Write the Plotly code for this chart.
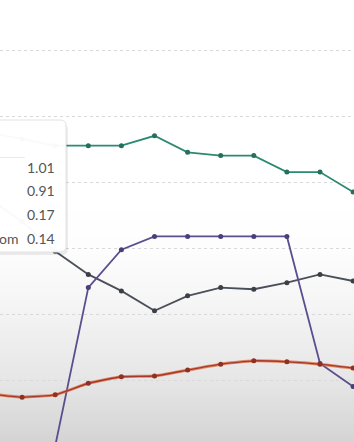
import plotly.graph_objects as go

# ---- data (category index 0..11) ----
idx = list(range(12))
green = [0.95, 0.93, 0.91, 0.91, 0.91, 0.94, 0.89, 0.88, 0.88, 0.83, 0.83, 0.77]
gray = [0.75, 0.68, 0.59, 0.52, 0.47, 0.41, 0.455, 0.48, 0.475, 0.495, 0.52, 0.50]
purple = [0.0, 0.0, 0.0, 0.48, 0.595, 0.635, 0.635, 0.635, 0.635, 0.635, 0.25, 0.18]
orange = [0.158, 0.148, 0.155, 0.19, 0.21, 0.212, 0.23, 0.248, 0.258, 0.255, 0.248, 0.236]

tip_labels = ["", "", "", "om"]
tip_values = ["1.01", "0.91", "0.17", "0.14"]

W, H = 354, 442

def px(x):
    return x / W

def py(y):
    return 1 - y / H

fig = go.Figure()

series = [
    (green, "#2a8a72", "#256f5d"),
    (gray, "#4b4f59", "#3c3f47"),
    (purple, "#5b4e8e", "#4a3f78"),
]
for vals, lc, mc in series:
    fig.add_trace(go.Scatter(x=idx, y=vals, mode="lines+markers",
                             line=dict(color=lc, width=1.8),
                             marker=dict(color=mc, size=5),
                             hoverinfo="skip", showlegend=False))
# orange: glow + darker core
fig.add_trace(go.Scatter(x=idx, y=orange, mode="lines", line=dict(color="#d9683c", width=3.0, shape="spline", smoothing=0.4),
                         opacity=0.75, hoverinfo="skip", showlegend=False))
fig.add_trace(go.Scatter(x=idx, y=orange, mode="lines+markers",
                         line=dict(color="#a8392a", width=1.4, shape="spline", smoothing=0.4),
                         marker=dict(color="#8e3022", size=5),
                         hoverinfo="skip", showlegend=False))

shapes = []
# background vertical gradient (below gridlines)
stops = [(442, 212), (380, 230), (300, 246), (250, 253), (200, 255)]
def shade(y):
    for (y1, c1), (y2, c2) in zip(stops[:-1], stops[1:]):
        if y2 <= y <= y1:
            t = (y1 - y) / (y1 - y2)
            return c1 + (c2 - c1) * t
    return 255
y = 442
while y > 200:
    c = int(round(shade(y - 1)))
    shapes.append(dict(type="rect", xref="paper", yref="paper", x0=0, x1=1,
                       y0=py(y), y1=py(y - 2.2), fillcolor=f"rgb({c},{c},{c})",
                       line=dict(width=0), layer="below"))
    y -= 2

# tooltip shadow and box
def box_path(x0, y0, x1, y1, r, dx=0, dy=0):
    x0, x1, y0, y1 = x0 + dx, x1 + dx, y0 + dy, y1 + dy
    return (f"M {px(x0)},{py(y0)} L {px(x1 - r)},{py(y0)} Q {px(x1)},{py(y0)} {px(x1)},{py(y0 + r)} "
            f"L {px(x1)},{py(y1 - r)} Q {px(x1)},{py(y1)} {px(x1 - r)},{py(y1)} "
            f"L {px(x0)},{py(y1)} Z")
shapes.append(dict(type="path", xref="paper", yref="paper", path=box_path(-20, 121, 66, 252, 6, 2, 3),
                   fillcolor="rgba(0,0,0,0.07)", line=dict(width=0), layer="above"))
shapes.append(dict(type="path", xref="paper", yref="paper", path=box_path(-20, 120, 66, 252, 6),
                   fillcolor="rgba(255,255,255,0.97)", line=dict(color="#e2e2e2", width=1), layer="above"))
shapes.append(dict(type="line", xref="paper", yref="paper", x0=px(-5), x1=px(25), y0=py(157.5), y1=py(157.5),
                   line=dict(color="#ececec", width=1), layer="above"))
fig.update_layout(shapes=shapes)

row_y = [167, 190, 214, 238]
for lab, val, ry in zip(tip_labels, tip_values, row_y):
    fig.add_annotation(xref="paper", yref="paper", x=px(57), y=py(ry), text=val,
                       xanchor="right", yanchor="middle", showarrow=False,
                       font=dict(family="Lato", size=14, color="#555555"))
    if lab:
        fig.add_annotation(xref="paper", yref="paper", x=px(20), y=py(ry), text=lab,
                           xanchor="right", yanchor="middle", showarrow=False,
                           font=dict(family="Lato", size=14, color="#555555"))

fig.update_xaxes(range=[11 / 33.1, 365 / 33.1], showgrid=False, zeroline=False,
                 showticklabels=False, showline=False, fixedrange=True)
fig.update_yaxes(range=[4 / 330, 446 / 330], dtick=0.2, tick0=0, showgrid=True,
                 gridcolor="#d9d9d9", griddash="3px,3px", gridwidth=1,
                 zeroline=False, showticklabels=False, showline=False, fixedrange=True)
fig.update_layout(width=W, height=H, margin=dict(l=0, r=0, t=0, b=0),
                  plot_bgcolor="white", paper_bgcolor="white", hovermode=False)

fig.write_html("out.html", config={"displayModeBar": False})
